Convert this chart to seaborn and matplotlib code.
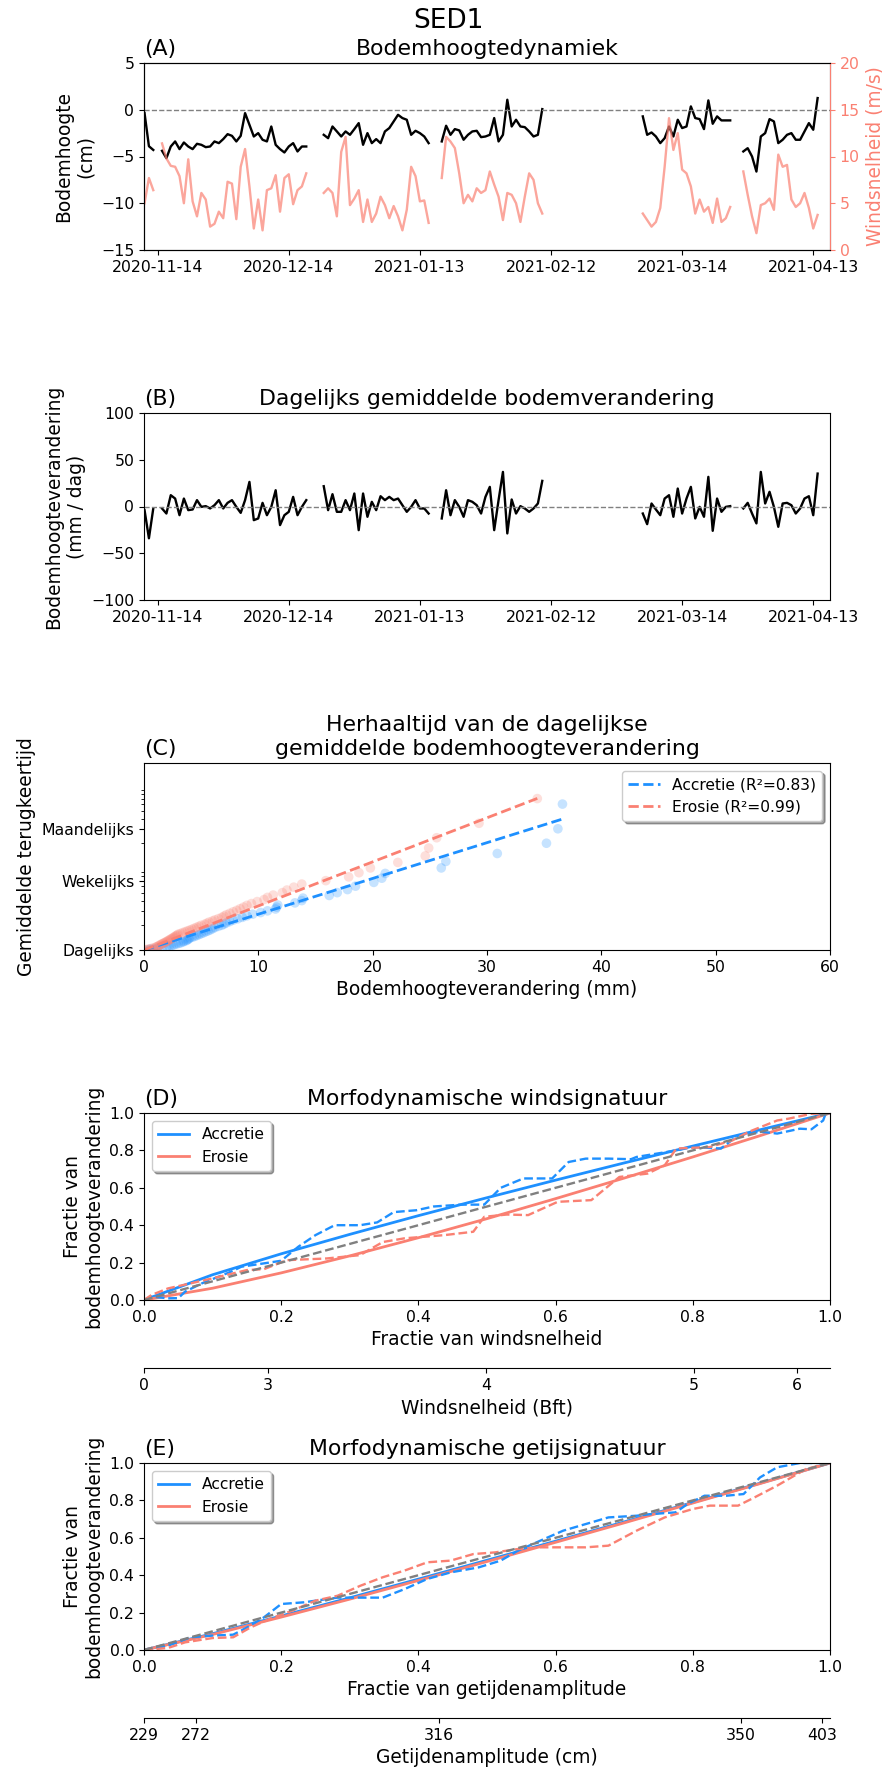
import numpy as np
import pandas as pd
import matplotlib
matplotlib.use("Agg")
import matplotlib.pyplot as plt
from matplotlib.ticker import NullFormatter
import seaborn as sns

# ---------------- data ----------------
seg_starts = ["2020-11-11", "2020-11-15", "2020-12-22", "2021-01-18", "2021-03-05", "2021-03-28"]

bed_seg1 = [-0.36, -3.9, -4.3]
bed_seg2 = [-4.39, -5.18, -3.93, -3.39, -4.21, -3.5, -3.93, -4.21, -3.64, -3.75, -4.0, -3.93,
            -3.39, -3.57, -3.14, -2.61, -2.79, -3.39, -2.79, -0.36, -1.61, -2.86, -2.5, -3.21,
            -3.39, -1.79, -3.75, -4.21, -4.57, -3.93, -3.57, -4.46, -3.93, -3.93]
bed_seg3 = [-2.68, -3.04, -1.79, -2.32, -2.86, -2.32, -2.68, -2.07, -1.43, -3.75, -2.5, -3.57,
            -3.14, -3.57, -2.32, -1.96, -1.25, -0.54, -0.89, -1.07, -2.68, -2.25, -2.5, -2.86, -3.57]
bed_seg4 = [-3.39, -1.71, -2.68, -2.07, -2.21, -3.21, -2.68, -2.32, -2.25, -2.93, -2.86, -2.68,
            -0.89, -3.39, -2.68, 1.07, -1.79, -1.07, -1.79, -1.86, -2.32, -2.86, -2.68, 0.07]
bed_seg5 = [-0.71, -2.68, -2.43, -2.86, -3.57, -3.04, -1.79, -2.86, -1.07, -1.96, -1.79, 0.36,
            -0.89, -1.0, -2.07, 1.0, -1.5, -0.71, -1.14, -1.14, -1.14]
bed_seg6 = [-4.46, -4.11, -5.0, -6.61, -2.86, -2.5, -1.0, -1.25, -3.57, -3.21, -2.68, -2.5,
            -3.21, -3.21, -2.32, -1.43, -2.14, 1.25]

wind_seg1 = [5.0, 7.7, 6.4]
wind_seg2 = [11.4, 9.8, 9.0, 8.9, 7.9, 5.0, 9.7, 5.2, 3.6, 6.1, 5.4, 2.5, 2.8, 4.1, 3.4, 7.3, 7.1,
             3.3, 8.9, 10.8, 6.8, 2.3, 5.4, 2.1, 6.4, 6.6, 8.0, 4.1, 7.7, 8.1, 4.9, 6.4, 6.8, 8.2]
wind_seg3 = [6.1, 6.6, 6.1, 3.6, 10.5, 12.1, 4.8, 5.5, 6.4, 3.0, 5.4, 3.0, 3.9, 5.7, 4.8, 3.4,
             4.7, 3.6, 2.1, 4.3, 8.9, 7.9, 5.2, 5.3, 2.9]
wind_seg4 = [7.7, 12.1, 11.6, 10.9, 8.2, 5.0, 5.9, 5.2, 6.6, 6.1, 6.4, 8.4, 7.0, 5.7, 3.2, 6.1,
             5.9, 5.0, 3.0, 5.7, 8.2, 7.5, 5.0, 3.9]
wind_seg5 = [3.9, 3.2, 2.5, 3.0, 4.5, 8.9, 14.1, 10.7, 12.5, 8.6, 8.2, 6.8, 3.9, 5.4, 4.1, 4.6,
             2.9, 5.5, 3.0, 3.4, 4.6]
wind_seg6 = [8.4, 5.9, 3.6, 1.8, 4.8, 5.0, 5.5, 4.3, 10.2, 8.9, 9.1, 5.4, 4.6, 5.0, 6.1, 4.5, 2.3, 3.75]

chg_seg1 = [-3.9, -34.0, -2.0]
chg_seg2 = [-2.1, -7.5, 12.1, 8.5, -9.3, 8.5, -3.9, -3.2, 6.8, -0.4, 0.4, -2.1, 1.4, 6.8, -2.1,
            3.9, 6.8, -0.4, -6.8, 6.8, 26.3, -14.6, -12.8, 3.9, -9.3, -0.4, 17.4, -19.9, -9.3,
            -5.7, 10.3, -9.3, -0.4, 6.8]
chg_seg3 = [21.7, -3.9, 13.2, -5.7, -5.7, 6.8, -3.9, 13.9, -25.3, 13.9, -11.0, 5.0, -3.9, 11.0,
            6.8, 10.3, 6.8, 8.5, 1.4, -5.7, -0.4, 6.8, -2.1, -2.1, -7.5]
chg_seg4 = [-12.8, 17.4, -9.3, 6.8, -0.4, -11.0, 6.8, 5.0, 1.4, -7.5, 10.3, 21.0, -25.3, 6.8,
            37.0, -28.8, 7.5, -7.5, 0.4, -2.1, -5.7, -2.1, 3.2, 27.4]
chg_seg5 = [-7.5, -18.9, 3.2, -3.2, -9.3, 8.5, 12.1, -11.0, 19.2, -7.5, 8.5, 21.0, -12.8, -0.4,
            -11.0, 31.7, -26.0, 8.5, -5.7, -0.4, 0.4]
chg_seg6 = [-2.1, 3.9, -7.5, -18.1, 37.0, 3.2, 15.7, -0.4, -21.7, 3.2, 3.9, 1.4, -7.5, -2.1, 8.5,
            11.0, -9.3, 35.2]

date_ticks = ["2020-11-14", "2020-12-14", "2021-01-13", "2021-02-12", "2021-03-14", "2021-04-13"]

# Panel C
acc_mm = [36.6, 36.2, 35.2, 30.9, 26.4, 26.0, 21.1, 20.8, 20.1, 18.5, 17.8, 16.9, 16.2, 13.9, 13.8,
          13.2, 11.7, 11.6, 11.5, 10.8, 10.2, 9.5, 9.0, 8.6, 8.2, 7.8, 7.5, 7.2, 7.0, 6.8, 6.5, 6.2,
          6.0, 5.8, 5.6, 5.4, 5.2, 5.0, 4.8, 4.6, 4.4, 4.2, 4.0, 3.9, 3.8, 3.7, 3.5, 3.4, 3.2, 3.0,
          2.8, 2.6, 2.4, 2.2, 2.0, 1.6, 1.2, 0.8, 0.5, 0.4]
acc_T = [60, 30, 20, 15, 12, 10, 8.57, 7.5, 6.67, 6, 5.45, 5, 4.62, 4.29, 4, 3.75, 3.53, 3.33, 3.16,
         3, 2.86, 2.73, 2.61, 2.5, 2.4, 2.31, 2.22, 2.14, 2.07, 2, 1.94, 1.88, 1.82, 1.76, 1.71,
         1.67, 1.62, 1.58, 1.54, 1.5, 1.46, 1.43, 1.4, 1.36, 1.33, 1.3, 1.28, 1.25, 1.22, 1.2, 1.18,
         1.15, 1.13, 1.11, 1.09, 1.07, 1.05, 1.03, 1.02, 1.0]
ero_mm = [34.4, 29.3, 25.6, 24.9, 24.6, 22.2, 19.8, 18.8, 17.9, 15.9, 13.8, 13.1, 12.5, 12.1, 11.3,
          10.8, 10.5, 9.9, 9.4, 9.0, 8.7, 8.4, 8.1, 7.8, 7.5, 7.2, 7.0, 6.8, 6.5, 6.2, 6.0, 5.7, 5.5,
          5.3, 5.0, 4.8, 4.6, 4.4, 4.2, 4.0, 3.8, 3.6, 3.4, 3.2, 3.0, 2.9, 2.8, 2.7, 2.6, 2.5, 2.4,
          2.3, 2.2, 2.1, 2.0, 1.9, 1.8, 1.7, 1.6, 1.5, 1.4, 1.3, 1.2, 1.1, 1.0, 0.8, 0.6, 0.4, 0.2, 0.1]
ero_T = [70, 35, 23.33, 17.5, 14, 11.67, 10, 8.75, 7.78, 7, 6.36, 5.83, 5.38, 5, 4.67, 4.38, 4.12,
         3.89, 3.68, 3.5, 3.33, 3.18, 3.04, 2.92, 2.8, 2.69, 2.59, 2.5, 2.41, 2.33, 2.26, 2.19, 2.12,
         2.06, 2, 1.94, 1.89, 1.84, 1.79, 1.75, 1.71, 1.67, 1.63, 1.59, 1.56, 1.52, 1.49, 1.46, 1.43,
         1.4, 1.37, 1.35, 1.32, 1.3, 1.27, 1.25, 1.23, 1.21, 1.19, 1.17, 1.15, 1.13, 1.11, 1.09,
         1.08, 1.06, 1.04, 1.03, 1.01, 1.0]
acc_fit = {"slope": 0.0436, "xmax": 36.6, "r2": 0.83}
ero_fit = {"slope": 0.0537, "xmax": 34.4, "r2": 0.99}
return_ticks = [1, 7, 30]
return_labels = ["Dagelijks", "Wekelijks", "Maandelijks"]

# Panel D (wind)
d_acc_x = [0, 0.011, 0.035, 0.05, 0.06, 0.085, 0.126, 0.142, 0.175, 0.2, 0.225, 0.25, 0.278, 0.315,
           0.34, 0.364, 0.397, 0.422, 0.463, 0.496, 0.52, 0.553, 0.595, 0.619, 0.644, 0.677, 0.71,
           0.718, 0.776, 0.8, 0.841, 0.866, 0.898, 0.923, 0.956, 0.973, 0.99, 0.994, 1.0]
d_acc_y = [0, 0.018, 0.009, 0.01, 0.045, 0.09, 0.15, 0.178, 0.196, 0.21, 0.285, 0.347, 0.4, 0.4,
           0.415, 0.47, 0.48, 0.5, 0.51, 0.51, 0.6, 0.65, 0.65, 0.738, 0.756, 0.756, 0.753, 0.765,
           0.8, 0.818, 0.81, 0.88, 0.9, 0.89, 0.916, 0.913, 0.96, 1.0, 1.0]
d_ero_x = [0, 0.011, 0.035, 0.068, 0.1, 0.15, 0.175, 0.208, 0.266, 0.315, 0.348, 0.38, 0.438, 0.48,
           0.496, 0.529, 0.56, 0.603, 0.652, 0.693, 0.734, 0.759, 0.776, 0.825, 0.858, 0.882, 0.923,
           0.94, 0.973, 1.0]
d_ero_y = [0, 0.027, 0.062, 0.089, 0.116, 0.16, 0.165, 0.213, 0.222, 0.24, 0.31, 0.33, 0.347, 0.365,
           0.445, 0.457, 0.454, 0.525, 0.534, 0.658, 0.676, 0.72, 0.81, 0.818, 0.854, 0.9, 0.96,
           0.97, 0.996, 1.0]
fit_x = [0, 0.1, 0.2, 0.3, 0.4, 0.5, 0.6, 0.7, 0.8, 0.9, 1.0]
d_acc_fit = [0, 0.135, 0.247, 0.351, 0.451, 0.547, 0.641, 0.733, 0.823, 0.912, 1.0]
d_ero_fit = [0, 0.063, 0.145, 0.236, 0.333, 0.435, 0.542, 0.652, 0.765, 0.881, 1.0]
bft_pos = [0, 0.181, 0.499, 0.802, 0.952]
bft_labels = ["0", "3", "4", "5", "6"]

# Panel E (tide)
e_acc_x = [0, 0.035, 0.068, 0.1, 0.13, 0.15, 0.175, 0.2, 0.233, 0.282, 0.315, 0.348, 0.38, 0.413,
           0.447, 0.488, 0.52, 0.545, 0.578, 0.611, 0.636, 0.677, 0.718, 0.74, 0.775, 0.792, 0.817,
           0.849, 0.874, 0.898, 0.923, 0.956, 1.0]
e_acc_y = [0, 0.023, 0.068, 0.077, 0.082, 0.12, 0.175, 0.246, 0.255, 0.28, 0.28, 0.28, 0.326, 0.38,
           0.415, 0.442, 0.478, 0.531, 0.585, 0.638, 0.665, 0.709, 0.718, 0.727, 0.736, 0.78, 0.825,
           0.825, 0.834, 0.923, 0.977, 1.0, 1.0]
e_ero_x = [0, 0.035, 0.06, 0.1, 0.13, 0.155, 0.183, 0.216, 0.25, 0.282, 0.315, 0.348, 0.38, 0.413,
           0.447, 0.48, 0.512, 0.545, 0.578, 0.611, 0.644, 0.677, 0.718, 0.759, 0.8, 0.825, 0.866,
           0.89, 0.923, 0.965, 1.0]
e_ero_y = [0, 0.011, 0.041, 0.064, 0.068, 0.12, 0.166, 0.21, 0.264, 0.29, 0.343, 0.389, 0.425, 0.469,
           0.478, 0.513, 0.522, 0.54, 0.549, 0.549, 0.549, 0.558, 0.638, 0.709, 0.754, 0.772, 0.772,
           0.816, 0.879, 0.968, 1.0]
e_acc_fit = [0, 0.087, 0.182, 0.279, 0.379, 0.48, 0.582, 0.685, 0.789, 0.894, 1.0]
e_ero_fit = [0, 0.083, 0.176, 0.272, 0.372, 0.473, 0.576, 0.68, 0.786, 0.892, 1.0]
tide_pos = [0, 0.0757, 0.43, 0.87, 0.988]
tide_labels = ["229", "272", "316", "350", "403"]
diag = [0, 1]

# ---------------- build frames ----------------
def seg_frame(segs, name):
    rows = []
    for i, (start, vals) in enumerate(zip(seg_starts, segs)):
        d = pd.date_range(start, periods=len(vals), freq="D")
        rows.append(pd.DataFrame({"date": d, name: vals, "seg": i}))
    return pd.concat(rows, ignore_index=True)

df_bed = seg_frame([bed_seg1, bed_seg2, bed_seg3, bed_seg4, bed_seg5, bed_seg6], "bed")
df_wind = seg_frame([wind_seg1, wind_seg2, wind_seg3, wind_seg4, wind_seg5, wind_seg6], "wind")
df_chg = seg_frame([chg_seg1, chg_seg2, chg_seg3, chg_seg4, chg_seg5, chg_seg6], "chg")

# ---------------- style ----------------
plt.rcParams.update({
    "font.family": ["DejaVu Sans"],
    "xtick.labelsize": 11.3,
    "ytick.labelsize": 11.3,
    "axes.labelsize": 13.4,
    "axes.titlesize": 15.8,
    "legend.fontsize": 11.2,
})
BLUE = "dodgerblue"
RED = "salmon"

fig = plt.figure(figsize=(8.82, 17.71), dpi=100)
axes = fig.subplots(5, 1)
fig.subplots_adjust(left=144 / 882, right=830 / 882, top=1 - 63 / 1771, bottom=1 - 1650 / 1771,
                    hspace=163 / 187)
fig.suptitle("SED1", fontsize=19, x=0.508, y=0.9955)

xlim_dates = (pd.Timestamp("2020-11-10 21:00"), pd.Timestamp("2021-04-16 20:00"))
tick_dates = pd.to_datetime(date_ticks)

# ---- (A)
ax = axes[0]
sns.lineplot(data=df_bed, x="date", y="bed", units="seg", estimator=None, color="black", lw=1.7, ax=ax)
ax.axhline(0, color="gray", ls="--", lw=1)
ax.set_ylim(-15, 5)
ax.set_yticks([-15, -10, -5, 0, 5])
ax.set_xlim(*xlim_dates)
ax.set_xticks(tick_dates)
ax.set_xticklabels(date_ticks)
ax.set_xlabel("")
ax.set_ylabel("Bodemhoogte\n(cm)")
ax.set_title("Bodemhoogtedynamiek")
ax.set_title("(A)", loc="left")
axw = ax.twinx()
sns.lineplot(data=df_wind, x="date", y="wind", units="seg", estimator=None, color=RED, alpha=0.7,
             lw=1.7, ax=axw)
axw.set_ylim(0, 20)
axw.set_yticks([0, 5, 10, 15, 20])
axw.set_xlim(*xlim_dates)
axw.set_ylabel("Windsnelheid (m/s)", color=RED)
axw.tick_params(axis="y", colors=RED)
axw.spines["right"].set_color(RED)
axw.set_xlabel("")

# ---- (B)
ax = axes[1]
sns.lineplot(data=df_chg, x="date", y="chg", units="seg", estimator=None, color="black", lw=1.7, ax=ax)
ax.axhline(0, color="gray", ls="--", lw=1)
ax.set_ylim(-100, 100)
ax.set_yticks([-100, -50, 0, 50, 100])
ax.set_xlim(*xlim_dates)
ax.set_xticks(tick_dates)
ax.set_xticklabels(date_ticks)
ax.set_xlabel("")
ax.set_ylabel("Bodemhoogteverandering\n(mm / dag)")
ax.set_title("Dagelijks gemiddelde bodemverandering")
ax.set_title("(B)", loc="left")

# ---- (C)
ax = axes[2]
ax.set_yscale("log")
sns.scatterplot(x=acc_mm, y=acc_T, color=BLUE, alpha=0.25, s=48, edgecolor="none", ax=ax)
sns.scatterplot(x=ero_mm, y=ero_T, color=RED, alpha=0.25, s=48, edgecolor="none", ax=ax)
for fit, col, name in [(acc_fit, BLUE, "Accretie"), (ero_fit, RED, "Erosie")]:
    xs = np.linspace(0, fit["xmax"], 50)
    sns.lineplot(x=xs, y=10 ** (fit["slope"] * xs), color=col, ls="--", lw=2, ax=ax,
                 label=f"{name} (R²={fit['r2']:.2f})")
ax.set_xlim(0, 60)
ax.set_ylim(1, 190)
ax.set_yticks(return_ticks)
ax.set_yticklabels(return_labels)
ax.yaxis.set_minor_formatter(NullFormatter())
ax.set_xlabel("Bodemhoogteverandering (mm)")
ax.set_ylabel("Gemiddelde terugkeertijd")
ax.set_title("Herhaaltijd van de dagelijkse\ngemiddelde bodemhoogteverandering")
ax.set_title("(C)", loc="left")
ax.legend(loc="upper right", shadow=True)


def signature(ax, ax_x, ax_y, er_x, er_y, acc_f, ero_f, title, letter, xlabel, pos, labels, xlabel2):
    sns.lineplot(x=fit_x, y=acc_f, color=BLUE, lw=2, ax=ax, label="Accretie")
    sns.lineplot(x=fit_x, y=ero_f, color=RED, lw=2, ax=ax, label="Erosie")
    sns.lineplot(x=ax_x, y=ax_y, color=BLUE, ls="--", lw=1.7, ax=ax, sort=False, estimator=None)
    sns.lineplot(x=er_x, y=er_y, color=RED, ls="--", lw=1.7, ax=ax, sort=False, estimator=None)
    sns.lineplot(x=diag, y=diag, color="gray", ls="--", lw=1.7, ax=ax)
    ax.set_xlim(0, 1)
    ax.set_ylim(0, 1)
    ax.set_xticks([0, 0.2, 0.4, 0.6, 0.8, 1.0])
    ax.set_yticks([0, 0.2, 0.4, 0.6, 0.8, 1.0])
    ax.set_xlabel(xlabel)
    ax.set_ylabel("Fractie van\nbodemhoogteverandering")
    ax.set_title(title)
    ax.set_title(letter, loc="left")
    ax.legend(loc="upper left", shadow=True)
    ax2 = ax.twiny()
    ax2.set_xlim(0, 1)
    ax2.xaxis.set_ticks_position("bottom")
    ax2.xaxis.set_label_position("bottom")
    ax2.spines["bottom"].set_position(("axes", -0.364))
    for s in ["top", "left", "right"]:
        ax2.spines[s].set_visible(False)
    ax2.set_xticks(pos)
    ax2.set_xticklabels(labels)
    ax2.set_xlabel(xlabel2)


signature(axes[3], d_acc_x, d_acc_y, d_ero_x, d_ero_y, d_acc_fit, d_ero_fit,
          "Morfodynamische windsignatuur", "(D)", "Fractie van windsnelheid",
          bft_pos, bft_labels, "Windsnelheid (Bft)")
signature(axes[4], e_acc_x, e_acc_y, e_ero_x, e_ero_y, e_acc_fit, e_ero_fit,
          "Morfodynamische getijsignatuur", "(E)", "Fractie van getijdenamplitude",
          tide_pos, tide_labels, "Getijdenamplitude (cm)")

fig.savefig("out.png", dpi=100)
